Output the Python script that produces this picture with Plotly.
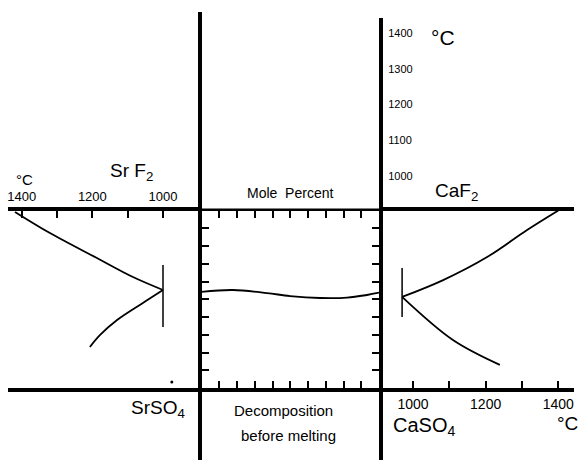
import plotly.graph_objects as go

# ---------------- data ----------------
# Top panel: liquidus along the SrF2-CaF2 edge (x = mol %, y = deg C)
top_mol = [0, 17.7, 34.6, 49.9, 60.0, 70.7, 82.0, 93.2, 100]
top_temp = [1408, 1403, 1389, 1369, 1358, 1358, 1372, 1394, 1405]

# Middle square: eutectic valley across the reciprocal square (mol %)
mid_x = [0, 17.7, 36.9, 49.9, 66.8, 82.0, 93.2, 100]
mid_y = [45.8, 44.8, 46.5, 48.2, 49.3, 49.1, 47.6, 46.3]

# Left panel: SrF2-SrSO4 (temperature, mol %)
sr_upper_T = [1419, 1320, 1187, 1085, 1000]
sr_upper_mol = [0.8, 12.7, 26.8, 37.5, 44.8]
sr_lower_T = [1000, 1057, 1130, 1178, 1207]
sr_lower_mol = [44.8, 52.1, 61.7, 70.1, 76.9]
sr_eut_T = [1000, 1000]
sr_eut_mol = [30.7, 65.6]
sr_dot_T = [975]
sr_dot_mol = [96.6]

# Right panel: CaF2-CaSO4 (temperature, mol %)
ca_upper_T = [1400, 1314, 1204, 1083, 970]
ca_upper_mol = [0, 11.0, 26.2, 39.2, 48.7]
ca_lower_T = [970, 1110, 1239]
ca_lower_mol = [48.7, 73.0, 87.0]
ca_eut_T = [970, 970]
ca_eut_mol = [32.4, 60.0]

temp_ticks_all = [1000, 1100, 1200, 1300, 1400]
temp_ticks_major = [1000, 1200, 1400]
temp_ticks_minor = [1100, 1300]
mol_ticks = [10, 20, 30, 40, 50, 60, 70, 80, 90]

# ---------------- layout helpers ----------------
W, H = 578, 460
def xp(px):
    return px / W
def yp(py):
    return 1 - py / H

# pixel calibrations of temperature scales
def T_top(py):   # top panel vertical scale
    return 1400 - (py - 33) / 0.3575
def T_left(px):  # left panel horizontal scale (increasing to the left)
    return 1000 + (163 - px) / 0.3533
def T_right(px):  # right panel horizontal scale
    return 1000 + (px - 413) / 0.3633

FONT = "Liberation Sans"
line = dict(color="black", width=1.8)

fig = go.Figure()
fig.add_trace(go.Scatter(x=mid_x, y=mid_y, mode="lines", line=line, line_shape="spline",
                         xaxis="x", yaxis="y"))
fig.add_trace(go.Scatter(x=top_mol, y=top_temp, mode="lines", line=line, line_shape="spline",
                         xaxis="x2", yaxis="y2"))
fig.add_trace(go.Scatter(x=[], y=[], xaxis="x2", yaxis="y3"))
fig.add_trace(go.Scatter(x=sr_upper_T, y=sr_upper_mol, mode="lines", line=line, line_shape="spline",
                         xaxis="x4", yaxis="y4"))
fig.add_trace(go.Scatter(x=sr_lower_T, y=sr_lower_mol, mode="lines", line=line, line_shape="spline",
                         xaxis="x4", yaxis="y4"))
fig.add_trace(go.Scatter(x=sr_eut_T, y=sr_eut_mol, mode="lines", line=dict(color="black", width=1.5),
                         xaxis="x4", yaxis="y4"))
fig.add_trace(go.Scatter(x=sr_dot_T, y=sr_dot_mol, mode="markers", marker=dict(color="black", size=3),
                         xaxis="x4", yaxis="y4"))
fig.add_trace(go.Scatter(x=ca_upper_T, y=ca_upper_mol, mode="lines", line=line, line_shape="spline",
                         xaxis="x5", yaxis="y5"))
fig.add_trace(go.Scatter(x=ca_lower_T, y=ca_lower_mol, mode="lines", line=line, line_shape="spline",
                         xaxis="x5", yaxis="y5"))
fig.add_trace(go.Scatter(x=ca_eut_T, y=ca_eut_mol, mode="lines", line=dict(color="black", width=1.5),
                         xaxis="x5", yaxis="y5"))
fig.add_trace(go.Scatter(x=[], y=[], xaxis="x6", yaxis="y6"))

base = dict(showgrid=False, zeroline=False, linecolor="black", linewidth=4,
            tickcolor="black", tickwidth=1.5, ticklen=7,
            tickfont=dict(family=FONT, size=13, color="black"))
hidden = dict(visible=False, showgrid=False, zeroline=False)
minor_ticks = dict(tickvals=temp_ticks_minor, ticks="inside", ticklen=7, tickwidth=1.5,
                   tickcolor="black", showgrid=False)

fig.update_layout(
    width=W, height=H, margin=dict(l=0, r=0, t=0, b=0),
    paper_bgcolor="white", plot_bgcolor="white", showlegend=False,
    xaxis=dict(**base, domain=[xp(201.5), xp(379)], range=[0, 100], anchor="y",
               showline=True, mirror="allticks", ticks="inside", tickvals=mol_ticks,
               showticklabels=False),
    yaxis=dict(**base, domain=[yp(388), yp(210.5)], range=[100, 0], anchor="x",
               showline=True, mirror="allticks", ticks="inside", tickvals=mol_ticks,
               showticklabels=False),
    xaxis2=dict(**hidden, domain=[xp(201.5), xp(379)], range=[0, 100], anchor="y2"),
    yaxis2=dict(**{**base, "tickfont": dict(family=FONT, size=11, color="black")},
                domain=[yp(208.5), yp(18)], range=[T_top(208.5), T_top(18)], anchor="x2",
                side="right", showline=True, ticks="inside", tickvals=temp_ticks_all,
                ticklabelstandoff=3),
    yaxis3=dict(showgrid=False, zeroline=False, linecolor="black", linewidth=4,
                domain=[yp(208.5), yp(12)], range=[0, 1], anchor="x2", side="left",
                showline=True, ticks="", showticklabels=False),
    xaxis4=dict(**base, domain=[xp(8), xp(197.5)], range=[T_left(8), T_left(197.5)],
                anchor="y4", side="top", showline=True, mirror=True, ticks="inside",
                tickvals=temp_ticks_major, minor=minor_ticks),
    yaxis4=dict(**hidden, domain=[yp(388), yp(210.5)], range=[100, 0], anchor="x4"),
    xaxis5=dict(**{**base, "tickfont": dict(family=FONT, size=14, color="black")},
                domain=[xp(383), xp(574)], range=[T_right(383), T_right(574)],
                anchor="y5", side="bottom", showline=True, mirror=True, ticks="inside",
                tickvals=temp_ticks_major, minor=minor_ticks),
    yaxis5=dict(**hidden, domain=[yp(388), yp(210.5)], range=[100, 0], anchor="x5"),
    xaxis6=dict(**hidden, domain=[xp(201.5), xp(379)], range=[0, 1], anchor="y6"),
    yaxis6=dict(showgrid=False, zeroline=False, linecolor="black", linewidth=4,
                domain=[0, yp(392)], range=[0, 1], anchor="x6", showline=True,
                mirror=True, ticks="", showticklabels=False),
)

def label(text, px, py, size):
    fig.add_annotation(text=text, x=xp(px), y=yp(py), xref="paper", yref="paper",
                       showarrow=False, xanchor="center", yanchor="middle",
                       font=dict(family=FONT, size=size, color="black"))

label("°C", 443, 38, 21)
label("CaF<sub>2</sub>", 456, 192, 19)
label("Sr F<sub>2</sub>", 131, 172, 19)
label("°C", 24, 179, 15)
label("Mole  Percent", 290, 193, 14)
label("SrSO<sub>4</sub>", 158, 409, 19)
label("CaSO<sub>4</sub>", 424, 426, 20)
label("°C", 567, 423, 19)
label("Decomposition", 283, 410, 15)
label("before melting", 288, 435, 15)

fig.write_html("out.html", config={"displayModeBar": False},
               post_script="document.body.style.margin='0';document.body.style.overflow='hidden';")
